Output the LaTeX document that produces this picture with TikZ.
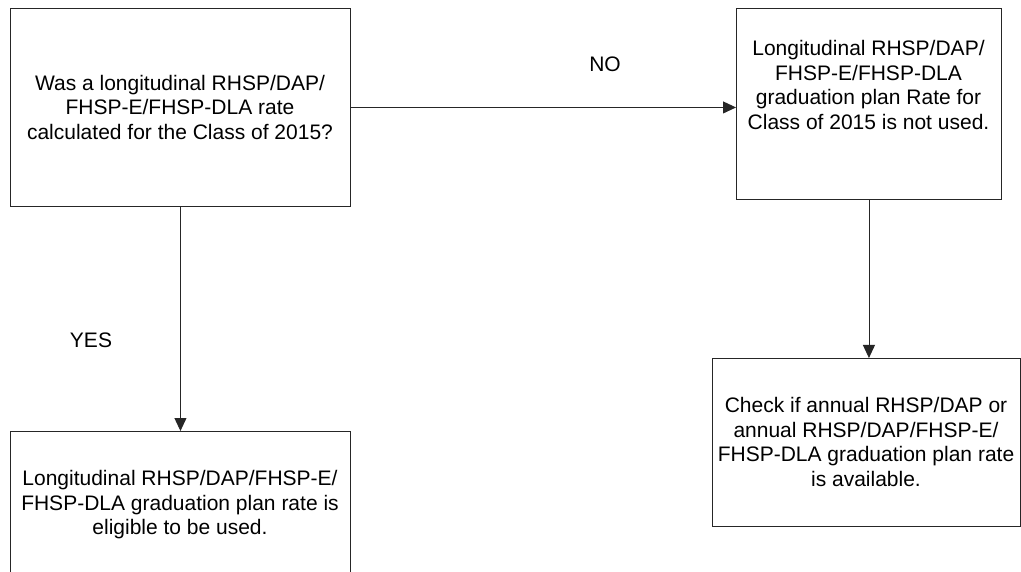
\documentclass[tikz,border=0pt]{standalone}
\usepackage{fontspec}
\setmainfont{Liberation Sans}
\usetikzlibrary{arrows.meta}
\begin{document}
\begin{tikzpicture}[x=1pt,y=-1pt,
  box/.style={draw=black!85,line width=0.9pt,inner sep=0pt,anchor=north west},
  txt/.style={align=center,font=\fontsize{21}{24.5}\selectfont,inner sep=0pt},
  lbl/.style={font=\fontsize{21}{24}\selectfont,inner sep=0pt},
  arr/.style={draw=black!85,line width=0.9pt,-{Triangle[length=13pt,width=12pt]}}]
\clip (0,0) rectangle (1021,572);
\fill[white] (0,0) rectangle (1021,572);
% boxes
\node[box,minimum width=340pt,minimum height=198pt] (b1) at (10,8) {};
\node[box,minimum width=265pt,minimum height=191pt] (b2) at (736,8) {};
\node[box,minimum width=340pt,minimum height=160pt] (b3) at (10,431) {};
\node[box,minimum width=308pt,minimum height=168pt] (b4) at (712,358) {};
% texts
\node[txt] (t1) at (180,107) {Was a longitudinal RHSP/DAP/\\FHSP-E/FHSP-DLA rate\\calculated for the Class of 2015?};
\node[txt] (t2) at (868.5,85) {Longitudinal RHSP/DAP/\\FHSP-E/FHSP-DLA\\graduation plan Rate for\\Class of 2015 is not used.};
\node[txt] (t3) at (180,505) {Longitudinal RHSP/DAP/FHSP-E/\\FHSP-DLA graduation plan rate is\\eligible to be used.};
\node[txt] (t4) at (866,442) {Check if annual RHSP/DAP or\\annual RHSP/DAP/FHSP-E/\\FHSP-DLA graduation plan rate\\is available.};
% labels
\node[lbl] (no) at (605,64) {NO};
\node[lbl] (yes) at (91,340) {YES};
% connectors
\draw[arr] (b1.east) -- (b1.east -| b2.west);
\draw[arr] (b1.south) -- (b1.south |- b3.north);
\draw[arr] (b2.south) -- (b2.south |- b4.north);
\end{tikzpicture}
\end{document}
